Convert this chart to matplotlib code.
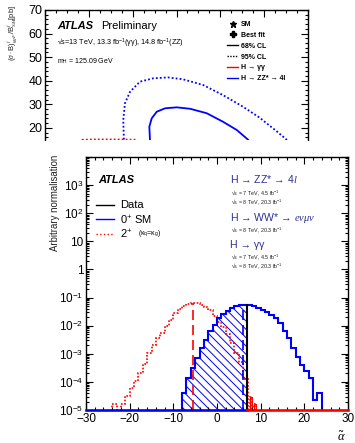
import numpy as np
import matplotlib
matplotlib.use("Agg")
import matplotlib.pyplot as plt
from matplotlib.ticker import MultipleLocator, FixedLocator, LogLocator, NullFormatter
from matplotlib.lines import Line2D

plt.rcParams['font.family'] = ['Liberation Sans', 'DejaVu Sans']
plt.rcParams['mathtext.fontset'] = 'custom'
plt.rcParams['mathtext.rm'] = 'Liberation Sans'
plt.rcParams['mathtext.it'] = 'Liberation Serif:italic'
plt.rcParams['mathtext.bf'] = 'Liberation Sans:bold'
plt.rcParams['hatch.linewidth'] = 0.7

# ---- top panel: likelihood contours (only upper part visible) ----
zz95_x = [3.62, 3.60, 3.57, 3.65, 3.88, 4.33, 4.93, 5.61, 6.30, 7.21, 8.12, 9.03, 9.81, 10.59, 11.04, 11.3]
zz95_y = [10.0, 14.85, 23.3, 30.5, 35.3, 39.6, 41.0, 41.4, 40.6, 38.2, 33.9, 29.0, 24.2, 18.4, 14.85, 10.0]
zz68_x = [4.85, 4.79, 4.76, 4.87, 5.10, 5.48, 6.01, 6.62, 7.38, 8.12, 8.75, 9.28, 9.6]
zz68_y = [10.0, 14.85, 20.5, 24.05, 26.85, 28.3, 28.7, 28.1, 26.2, 22.6, 19.1, 14.85, 10.0]
yy95_x = [1.5, 1.7, 2.2, 3.5, 4.2, 4.4]
yy95_y = [12.0, 14.95, 15.08, 15.08, 14.95, 12.0]

# ---- bottom panel: test statistic distributions ----
sm_edges = np.arange(-8, 25, 1.0)
sm_vals = [4.0e-5, 1.4e-4, 3.2e-4, 7.1e-4, 1.6e-3, 3.2e-3, 6.3e-3, 1.1e-2,
           1.8e-2, 2.5e-2, 3.3e-2, 4.2e-2, 5.0e-2, 5.5e-2, 5.6e-2, 5.4e-2,
           5.0e-2, 4.4e-2, 3.7e-2, 3.0e-2, 2.4e-2, 1.8e-2, 1.2e-2, 6.3e-3,
           3.5e-3, 1.6e-3, 7.9e-4, 4.0e-4, 2.5e-4, 1.4e-4, 2.3e-5, 4.0e-5]
alt_edges = np.concatenate([np.arange(-24, 8, 1.0), [7.5, 8.0, 8.5, 9.0]])
alt_vals = [1.6e-5, 0, 1.7e-5, 3.2e-5, 6.3e-5, 1.1e-4, 2.0e-4, 4.5e-4,
            1.1e-3, 2.0e-3, 3.5e-3, 5.6e-3, 1.0e-2, 1.6e-2, 2.8e-2, 4.0e-2,
            5.2e-2, 6.0e-2, 6.5e-2, 6.3e-2, 5.6e-2, 4.7e-2, 3.5e-2, 2.2e-2,
            1.4e-2, 8.9e-3, 5.0e-3, 2.5e-3, 1.1e-3, 5.0e-4, 1.3e-4,
            0, 2.9e-5, 0, 1.6e-5]
data_x = 6.8
sm_median = 6.0
alt_median = -5.4

ytick_vals = [1e-5, 1e-4, 1e-3, 1e-2, 1e-1, 1, 10, 1e2, 1e3, 1e4]
ytick_labels = ['$10^{-5}$', '$10^{-4}$', '$10^{-3}$', '$10^{-2}$', '$10^{-1}$',
                '1', '10', '$10^{2}$', '$10^{3}$', '']

W, H = 355, 443
fig = plt.figure(figsize=(W / 100, H / 100), dpi=100)


def box(l, t, r, b):
    return [l / W, 1 - b / H, (r - l) / W, (b - t) / H]


def height_at(edges, vals, x):
    i = np.searchsorted(edges, x, side='right') - 1
    return vals[i]


def root_ticks(ax):
    ax.tick_params(which='both', direction='in', top=True, right=True,
                   labelsize=7.5, pad=2, width=0.8)
    ax.tick_params(which='major', length=5)
    ax.tick_params(which='minor', length=2.5)
    for s in ax.spines.values():
        s.set_linewidth(1.0)


# top panel
ax1 = fig.add_axes(box(45, 10, 308, 140))
ax1.plot(zz95_x, zz95_y, color='blue', ls=(0, (1, 1.2)), lw=1.3)
ax1.plot(zz68_x, zz68_y, color='blue', lw=1.3)
ax1.plot(yy95_x, yy95_y, color='red', ls=(0, (1, 1.2)), lw=1.3)
ax1.set_xlim(0, 12)
ax1.set_ylim(14.85, 70)
ax1.spines['bottom'].set_visible(False)
root_ticks(ax1)
ax1.tick_params(bottom=False, labelbottom=False, which='both')
ax1.xaxis.set_major_locator(MultipleLocator(2))
ax1.xaxis.set_minor_locator(MultipleLocator(0.5))
ax1.yaxis.set_major_locator(MultipleLocator(10))
ax1.yaxis.set_minor_locator(MultipleLocator(2))
ax1.tick_params(axis='y', labelsize=9)

ax1.text(0.045, 0.88, 'ATLAS', transform=ax1.transAxes, fontsize=8,
         fontweight='bold', fontstyle='italic', va='center')
ax1.text(0.215, 0.88, 'Preliminary', transform=ax1.transAxes, fontsize=8, va='center')
ax1.text(0.045, 0.745, '√s=13 TeV, 13.3 fb$^{-1}$(γγ), 14.8 fb$^{-1}$(ZZ)',
         transform=ax1.transAxes, fontsize=5.2, va='center')
ax1.text(0.045, 0.61, r'm$_{\rm H}$ = 125.09 GeV', transform=ax1.transAxes,
         fontsize=5, va='center')

handles = [Line2D([], [], ls='none', marker='*', color='k', ms=5),
           Line2D([], [], ls='none', marker='P', color='k', ms=5),
           Line2D([], [], color='k', lw=1),
           Line2D([], [], color='k', lw=1, ls=(0, (1, 1))),
           Line2D([], [], color='red', lw=1),
           Line2D([], [], color='blue', lw=1)]
labels = ['SM', 'Best fit', '68% CL', '95% CL', 'H → γγ', 'H → ZZ* → 4l']
leg = ax1.legend(handles, labels, loc='upper left', bbox_to_anchor=(0.692, 0.915),
                 frameon=False, prop={'size': 5, 'weight': 'bold'},
                 handlelength=1.6, handletextpad=0.4, labelspacing=0.55,
                 borderpad=0, borderaxespad=0)
fig.text(12 / W, 1 - 5 / H, r'$(\sigma\cdot$B$)^{f}_{ggF}$/B$^{f}_{SM}$[pb]',
         rotation=90, ha='center', va='top', fontsize=5.5, color='#222222')

# bottom panel (drawn over a white sheet)
fig.patches.append(plt.Rectangle((0, 0), 1, 1 - 141 / H, transform=fig.transFigure,
                                 facecolor='white', edgecolor='none', zorder=1))
ax2 = fig.add_axes(box(86, 157, 348, 410))
ax2.set_zorder(2)
ax2.set_yscale('log')
ax2.set_xlim(-30, 30)
ax2.set_ylim(1e-5, 1e4)

sm_vals = np.array(sm_vals)
alt_vals = np.array(alt_vals)
keep = sm_edges[:-1] < data_x
hatch_edges = np.clip(sm_edges[:np.count_nonzero(keep) + 1], None, data_x)
ax2.stairs(sm_vals[keep], hatch_edges, baseline=1e-7, fill=True, facecolor='none',
           edgecolor='blue', hatch='\\\\\\\\', lw=0)
tail = alt_edges[:-1] >= data_x
tail_edges = alt_edges[np.concatenate([tail, [True]])]
ax2.stairs(alt_vals[tail], tail_edges, baseline=1e-7, fill=True, facecolor='none',
           edgecolor='red', hatch='||||', lw=0.8)
ax2.stairs(alt_vals, alt_edges, baseline=1e-7, color='red', lw=1.2, ls=(0, (1, 1)))
ax2.stairs(sm_vals, sm_edges, baseline=1e-7, color='blue', lw=1.5)

ax2.plot([alt_median, alt_median], [1e-5, height_at(alt_edges, alt_vals, alt_median)],
         color='red', lw=1.2, ls=(0, (6, 3)))
ax2.plot([sm_median, sm_median], [1e-5, height_at(sm_edges, sm_vals, sm_median)],
         color='blue', lw=1.2, ls=(0, (6, 3)))
ax2.plot([data_x, data_x], [1e-5, height_at(sm_edges, sm_vals, data_x)],
         color='black', lw=1.5)
x0, x1 = ax2.get_xlim()
ax2.plot([x0, data_x], [1e-5, 1e-5], color='blue', lw=1.8, clip_on=False, zorder=5)
ax2.plot([data_x, x1], [1e-5, 1e-5], color='red', lw=1.8, clip_on=False, zorder=5)

root_ticks(ax2)
ax2.xaxis.set_major_locator(MultipleLocator(10))
ax2.xaxis.set_minor_locator(MultipleLocator(2))
ax2.yaxis.set_major_locator(FixedLocator(ytick_vals))
ax2.set_yticklabels(ytick_labels)
ax2.yaxis.set_minor_locator(LogLocator(base=10, subs=np.arange(2, 10), numticks=30))
ax2.yaxis.set_minor_formatter(NullFormatter())
ax2.tick_params(axis='both', labelsize=8.5)

ax2.text(0.045, 0.91, 'ATLAS', transform=ax2.transAxes, fontsize=8,
         fontweight='bold', fontstyle='italic', va='center')
leg_rows = [('Data', 'black', '-'), ('0$^{+}$ SM', 'blue', '-'),
            ('2$^{+}$', 'red', ':')]
for i, (lab, col, ls) in enumerate(leg_rows):
    yy = 0.81 - i * 0.057
    ax2.plot([0.04, 0.105], [yy, yy], transform=ax2.transAxes, color=col, ls=ls, lw=1)
    ax2.text(0.13, yy, lab, transform=ax2.transAxes, fontsize=8, va='center')
ax2.text(0.20, 0.81 - 2 * 0.057, r'(κ$_{\rm q}$=κ$_{\rm g}$)', transform=ax2.transAxes,
         fontsize=5, va='center')

navy = '#2e3192'
chan = [(0.55, 0.913, 'H → ZZ* → 4$l$', True),
        (0.553, 0.856, '√s = 7 TeV, 4.5 fb$^{-1}$', False),
        (0.553, 0.822, '√s = 8 TeV, 20.3 fb$^{-1}$', False),
        (0.55, 0.757, r'H → WW* → $e\nu\mu\nu$', True),
        (0.553, 0.712, '√s = 8 TeV, 20.3 fb$^{-1}$', False),
        (0.55, 0.654, 'H → γγ', True),
        (0.553, 0.603, '√s = 7 TeV, 4.5 fb$^{-1}$', False),
        (0.553, 0.569, '√s = 8 TeV, 20.3 fb$^{-1}$', False)]
for x, y, s, head in chan:
    ax2.text(x, y, s, transform=ax2.transAxes, va='center',
             fontsize=7.6 if head else 3.9, color=navy if head else '#222222')

fig.text(55 / W, 1 - 155 / H, 'Arbitrary normalisation', rotation=90,
         ha='center', va='top', fontsize=6.9, color='#222222')
fig.text(341 / W, 1 - 437 / H, r'$\tilde{\alpha}$', ha='center', va='center', fontsize=9)

fig.savefig('out.png', dpi=100)
